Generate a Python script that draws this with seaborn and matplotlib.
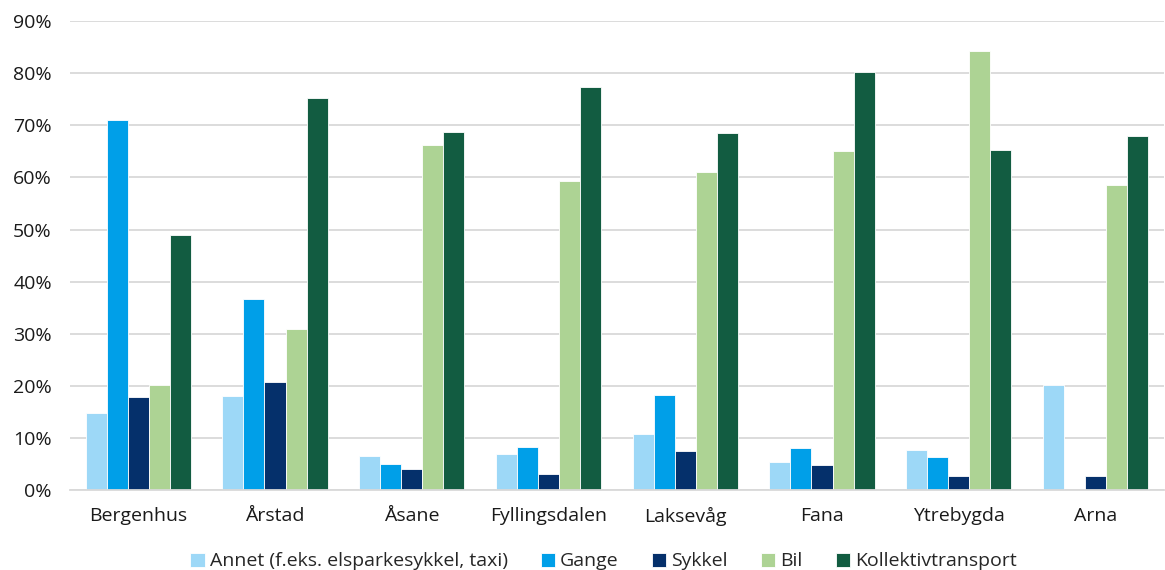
import pandas as pd
import numpy as np
import matplotlib.pyplot as plt
import seaborn as sns
from matplotlib.ticker import FuncFormatter, FixedLocator

# Data: share of trips by travel mode per district (percent)
bydeler = ['Bergenhus', 'Årstad', 'Åsane', 'Fyllingsdalen', 'Laksevåg',
           'Fana', 'Ytrebygda', 'Arna']
modus = ['Annet (f.eks. elsparkesykkel, taxi)', 'Gange', 'Sykkel', 'Bil',
         'Kollektivtransport']

annet = [14.8, 18.0, 6.5, 6.9, 10.7, 5.4, 7.7, 20.1]
gange = [71.0, 36.7, 5.0, 8.3, 18.2, 8.1, 6.3, 0.0]
sykkel = [17.9, 20.7, 4.0, 3.1, 7.5, 4.8, 2.7, 2.7]
bil = [20.2, 30.9, 66.2, 59.3, 61.0, 65.1, 84.3, 58.5]
kollektiv = [49.0, 75.2, 68.7, 77.4, 68.5, 80.2, 65.3, 68.0]

farger = ['#9dd8f7', '#009fe8', '#05306b', '#add394', '#125c41']

# Build long-form table
verdier = [annet, gange, sykkel, bil, kollektiv]
rows = []
for m, vals in zip(modus, verdier):
    for b, v in zip(bydeler, vals):
        rows.append({'bydel': b, 'modus': m, 'andel': v})
df = pd.DataFrame(rows)

sns.set_style('white')
plt.rcParams['font.family'] = ['Open Sans', 'DejaVu Sans']

fig = plt.figure(figsize=(11.65, 5.7), dpi=100)
ax = fig.add_axes([0.06, 0.14, 0.939, 0.823])

sns.barplot(data=df, x='bydel', y='andel', hue='modus', order=bydeler,
            hue_order=modus, palette=farger, saturation=1, width=0.77,
            edgecolor='white', linewidth=0.6, ax=ax)

ax.set_ylim(0, 90)
ax.set_xlim(-0.5, 7.5)
ax.set_yticks(np.arange(0, 91, 10))
ax.yaxis.set_major_formatter(FuncFormatter(lambda v, p: f'{v:.0f}%'))
ax.grid(axis='y', color='#d9d9d9', linewidth=1.3)
ax.set_axisbelow(True)

for s in ['top', 'right', 'left']:
    ax.spines[s].set_visible(False)
ax.spines['bottom'].set_color('#d9d9d9')
ax.spines['bottom'].set_linewidth(1.3)

ax.tick_params(axis='y', length=0, labelsize=14, pad=13, colors='#1a1a1a')
ax.tick_params(axis='x', which='major', length=0, labelsize=14, pad=12,
               colors='#1a1a1a')
ax.xaxis.set_minor_locator(FixedLocator(np.arange(-0.5, 8, 1)))
ax.tick_params(axis='x', which='minor', length=6, width=1.3, color='#d9d9d9')
ax.set_xlabel('')
ax.set_ylabel('')

ax.legend_.remove()
handles, labels = ax.get_legend_handles_labels()
fig.legend(handles, labels, loc='center', bbox_to_anchor=(0.518, 0.015),
           ncol=5, frameon=False, fontsize=14, handlelength=0.75,
           handleheight=0.75, handletextpad=0.25, columnspacing=1.7)

plt.savefig('out.png', dpi=100)
